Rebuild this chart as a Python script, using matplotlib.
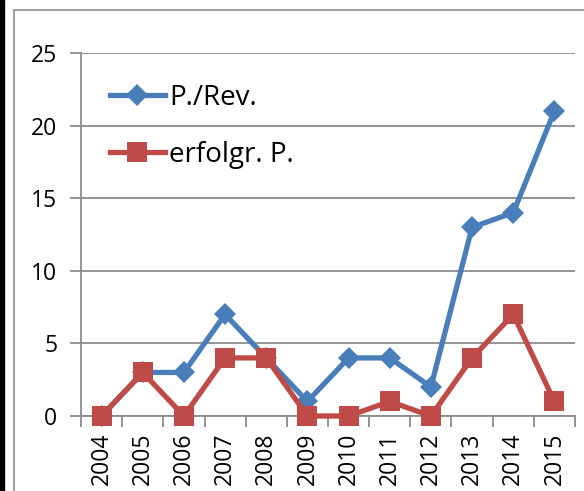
import numpy as np
import matplotlib.pyplot as plt
from matplotlib.lines import Line2D
from matplotlib.patches import Rectangle

# data
years = ["2004", "2005", "2006", "2007", "2008", "2009",
         "2010", "2011", "2012", "2013", "2014", "2015"]
p_rev = [0, 3, 3, 7, 4, 1, 4, 4, 2, 13, 14, 21]
erfolgr = [0, 3, 0, 4, 4, 0, 0, 1, 0, 4, 7, 1]

BLUE = "#4A7EBB"
RED = "#BE4B48"
GRID = "#8C8C8C"

plt.rcParams['font.family'] = ['Open Sans', 'DejaVu Sans']

W, H = 584, 491
fig = plt.figure(figsize=(W / 100, H / 100), dpi=100)

# outer chart frame and the dark strip at the left edge
fig.patches.append(Rectangle((0, 0), 4 / W, 1, transform=fig.transFigure,
                             color="black", zorder=0))
fig.lines.append(Line2D([13.5 / W, 13.5 / W], [0, 1 - 10 / H],
                        transform=fig.transFigure, color="#A0A0A0", lw=1.5))
fig.lines.append(Line2D([13.5 / W, 1], [1 - 10 / H, 1 - 10 / H],
                        transform=fig.transFigure, color="#A0A0A0", lw=1.5))

ax = fig.add_axes([81 / W, 1 - 416 / H, 494 / W, 363 / H])

x = np.arange(len(years))
ax.plot(x, p_rev, color=BLUE, lw=3.8, marker="D", markersize=10.7,
        markeredgewidth=0, label="P./Rev.", clip_on=False, zorder=3)
ax.plot(x, erfolgr, color=RED, lw=3.8, marker="s", markersize=15,
        markeredgewidth=0, label="erfolgr. P.", clip_on=False, zorder=4)

ax.set_xlim(-0.5, len(years) - 0.5)
ax.set_ylim(0, 25)
ax.set_yticks(range(0, 26, 5))
ax.yaxis.grid(True, color=GRID, lw=1.3)
ax.set_axisbelow(True)

ax.set_xticks(x)
ax.set_xticklabels(years, rotation=90, fontsize=16.5)
ax.set_xticks(np.arange(-0.5, len(years)), minor=True)
ax.tick_params(axis="x", which="major", length=0, pad=12)
ax.tick_params(axis="x", which="minor", length=8, width=1.3, color=GRID)
ax.tick_params(axis="y", length=8, width=1.3, color=GRID, labelsize=16.5, pad=9)

for s in ["top", "right"]:
    ax.spines[s].set_visible(False)
for s in ["left", "bottom"]:
    ax.spines[s].set_color(GRID)
    ax.spines[s].set_linewidth(1.3)

ax.legend(loc="upper left", bbox_to_anchor=(0.058, 0.915), frameon=False,
          fontsize=20, handlelength=2.0, handletextpad=0.15,
          labelspacing=1.05, borderpad=0, borderaxespad=0)

fig.savefig("out.png", dpi=100)
